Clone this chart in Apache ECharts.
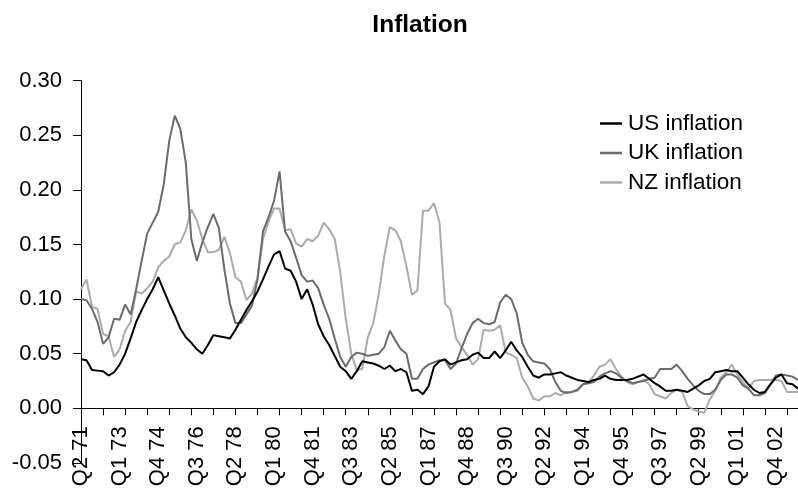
<!DOCTYPE html>
<html><head><meta charset="utf-8">
<script src="https://cdn.jsdelivr.net/npm/echarts@6/dist/echarts.min.js"></script>
<style>html,body{margin:0;padding:0;background:#fff}#c{width:798px;height:495px}</style>
</head><body><div id="c"></div>
<script>
// Quarterly data, Q2 1971 onward
const startYear = 71, startQuarter = 2;
const seriesNames = ['US inflation', 'UK inflation', 'NZ inflation'];
const yTicks = [-0.05, 0.00, 0.05, 0.10, 0.15, 0.20, 0.25, 0.30];

const usInflation = [
0.045,0.044,0.035,0.0345,0.034,0.030,0.033,0.040,0.050,0.064,
0.079,0.090,0.100,0.109,0.120,0.108,0.096,0.085,0.073,0.065,
0.060,0.054,0.050,0.058,0.067,0.066,0.065,0.064,0.072,0.081,
0.090,0.098,0.107,0.118,0.130,0.141,0.144,0.128,0.126,0.116,
0.100,0.109,0.095,0.077,0.066,0.058,0.048,0.038,0.034,0.027,
0.034,0.043,0.042,0.041,0.039,0.036,0.039,0.034,0.036,0.033,
0.016,0.017,0.013,0.020,0.038,0.043,0.045,0.040,0.042,0.044,
0.045,0.049,0.051,0.046,0.046,0.052,0.046,0.053,0.061,0.053,
0.047,0.038,0.030,0.028,0.031,0.031,0.032,0.033,0.030,0.028,
0.026,0.025,0.024,0.026,0.027,0.030,0.027,0.026,0.026,0.026,
0.027,0.029,0.031,0.027,0.023,0.020,0.016,0.016,0.017,0.016,
0.015,0.018,0.021,0.025,0.027,0.033,0.034,0.035,0.034,0.034,
0.028,0.022,0.017,0.014,0.015,0.022,0.028,0.031,0.023,0.022,
0.018];

const ukInflation = [
0.100,0.099,0.091,0.079,0.059,0.065,0.082,0.081,0.095,0.086,
0.109,0.135,0.160,0.170,0.180,0.205,0.245,0.268,0.256,0.225,
0.155,0.135,0.152,0.166,0.178,0.165,0.127,0.096,0.078,0.078,
0.086,0.094,0.118,0.162,0.175,0.190,0.217,0.162,0.153,0.138,
0.122,0.116,0.117,0.110,0.095,0.082,0.064,0.047,0.038,0.047,
0.051,0.050,0.048,0.049,0.050,0.056,0.071,0.062,0.054,0.050,
0.027,0.027,0.036,0.040,0.042,0.044,0.044,0.036,0.041,0.055,
0.068,0.078,0.082,0.078,0.077,0.079,0.097,0.104,0.100,0.087,
0.060,0.049,0.043,0.042,0.041,0.036,0.024,0.016,0.014,0.015,
0.017,0.022,0.023,0.024,0.029,0.032,0.034,0.032,0.028,0.025,
0.023,0.024,0.025,0.027,0.028,0.036,0.036,0.036,0.040,0.034,
0.027,0.021,0.016,0.013,0.013,0.017,0.026,0.031,0.031,0.028,
0.021,0.018,0.012,0.012,0.014,0.022,0.030,0.031,0.030,0.029,
0.026];

const nzInflation = [
0.109,0.118,0.093,0.091,0.068,0.066,0.047,0.054,0.071,0.079,
0.107,0.105,0.110,0.116,0.129,0.135,0.139,0.150,0.152,0.163,
0.182,0.172,0.155,0.143,0.143,0.145,0.157,0.142,0.120,0.116,
0.099,0.105,0.120,0.155,0.171,0.183,0.183,0.163,0.164,0.151,
0.148,0.155,0.153,0.158,0.170,0.164,0.155,0.125,0.082,0.050,
0.035,0.036,0.065,0.078,0.105,0.140,0.166,0.163,0.153,0.130,
0.104,0.108,0.181,0.181,0.188,0.170,0.096,0.090,0.064,0.056,
0.049,0.040,0.045,0.072,0.071,0.072,0.076,0.051,0.049,0.046,
0.028,0.020,0.009,0.007,0.011,0.011,0.014,0.012,0.015,0.015,
0.016,0.022,0.024,0.030,0.038,0.040,0.045,0.036,0.029,0.024,
0.022,0.024,0.026,0.022,0.013,0.011,0.009,0.014,0.017,0.015,
0.002,-0.001,-0.003,-0.004,0.008,0.016,0.028,0.033,0.040,0.031,
0.024,0.018,0.025,0.026,0.026,0.026,0.026,0.025,0.015,0.015,
0.015];

// Category labels "Qn yy"
const categories = [];
for (let i = 0; i < usInflation.length; i++) {
  const q0 = startQuarter - 1 + i;
  const yr = (startYear + Math.floor(q0 / 4)) % 100;
  categories.push('Q' + (q0 % 4 + 1) + ' ' + String(yr).padStart(2, '0'));
}

const FONT = "'Liberation Sans', Arial, sans-serif";
const GRID_TOP = 80.7, GRID_BOTTOM = 32.1;
const plotH = 495 - GRID_TOP - GRID_BOTTOM;
const yMin = yTicks[0], yMax = yTicks[yTicks.length - 1];
// x axis sits at value 0 (crosses inside the plot)
const zeroOffset = -plotH * (0 - yMin) / (yMax - yMin);

const chart = echarts.init(document.getElementById('c'), null, {renderer: 'canvas'});
chart.setOption({
  animation: false,
  backgroundColor: '#fff',
  title: {
    text: 'Inflation', left: 415, top: 8, textAlign: 'center',
    textStyle: {fontFamily: FONT, fontSize: 24.5, fontWeight: 'bold', color: '#000'}
  },
  legend: {
    orient: 'vertical', left: 595, top: 107, itemWidth: 22, itemHeight: 2.5, itemGap: 6.5,
    icon: 'rect',
    data: seriesNames,
    textStyle: {fontFamily: FONT, fontSize: 22.5, color: '#000', padding: [0, 0, 0, 1]}
  },
  grid: {left: 81, right: 0, top: GRID_TOP, bottom: GRID_BOTTOM, containLabel: false, outerBoundsMode: 'none'},
  xAxis: {
    type: 'category', boundaryGap: false, data: categories,
    offset: zeroOffset,
    axisLine: {onZero: false, lineStyle: {color: '#000', width: 1}},
    axisTick: {show: true, interval: 3, length: 7, lineStyle: {color: '#000'}},
    axisLabel: {interval: 6, rotate: 90, margin: 18, fontFamily: FONT, fontSize: 22, color: '#000',
      hideOverlap: false},
    splitLine: {show: false}
  },
  yAxis: {
    type: 'value', min: yMin, max: yMax, interval: 0.05,
    axisLine: {show: true, lineStyle: {color: '#000', width: 1}},
    axisTick: {show: true, length: 8, lineStyle: {color: '#000'}},
    axisLabel: {margin: 19, fontFamily: FONT, fontSize: 22, color: '#000',
      formatter: v => v.toFixed(2)},
    splitLine: {show: false}
  },
  series: [
    {name: seriesNames[0], type: 'line', data: usInflation, symbol: 'none', z: 4,
     lineStyle: {width: 2, color: '#000000'}, itemStyle: {color: '#000000'}},
    {name: seriesNames[1], type: 'line', data: ukInflation, symbol: 'none', z: 3,
     lineStyle: {width: 2, color: '#6b6b6b'}, itemStyle: {color: '#6b6b6b'}},
    {name: seriesNames[2], type: 'line', data: nzInflation, symbol: 'none', z: 2,
     lineStyle: {width: 2, color: '#ababab'}, itemStyle: {color: '#ababab'}}
  ]
});
</script></body></html>
